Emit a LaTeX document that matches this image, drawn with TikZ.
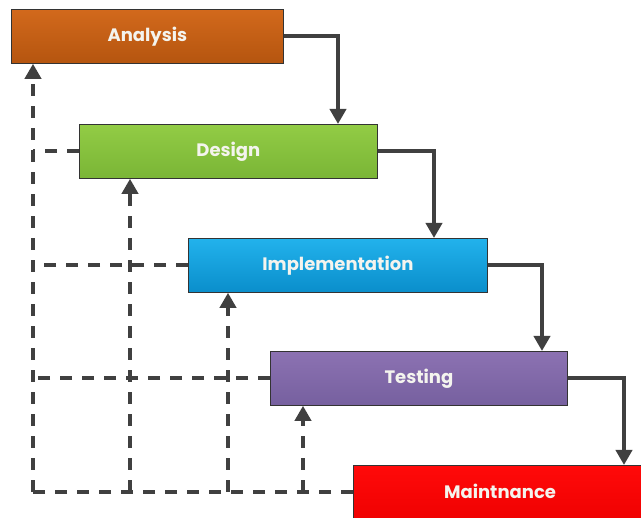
\documentclass[tikz,border=0pt]{standalone}
\usepackage{fontspec}
\setmainfont{Poppins}
\usetikzlibrary{arrows.meta}

\definecolor{lineclr}{HTML}{404040}
\definecolor{anaTop}{HTML}{D2691C}
\definecolor{anaBot}{HTML}{B5550F}
\definecolor{desTop}{HTML}{92CC45}
\definecolor{desBot}{HTML}{7AB536}
\definecolor{impTop}{HTML}{22B2EC}
\definecolor{impBot}{HTML}{0A8ECB}
\definecolor{tesTop}{HTML}{8C72B2}
\definecolor{tesBot}{HTML}{76609F}
\definecolor{maiTop}{HTML}{FF0A0A}
\definecolor{maiBot}{HTML}{EE0000}
\definecolor{labelclr}{HTML}{F4F4EE}

\tikzset{
  phaselabel/.style={text=labelclr, font=\fontsize{18}{21}\selectfont\bfseries},
  phase/.style={draw=black!80, line width=0.8pt, minimum height=54pt,
    phaselabel, inner sep=0pt, anchor=north west},
  flow/.style={draw=lineclr, line width=4pt,
    -{Triangle[width=16pt,length=15pt]}},
  back/.style={draw=lineclr, line width=4pt, dash pattern=on 12pt off 10pt},
  backarrow/.style={back, -{Triangle[width=16pt,length=15pt]}},
}

\begin{document}
\begin{tikzpicture}[x=1pt,y=-1pt]
  \useasboundingbox (0,0) rectangle (641,518);

  % phase boxes
  \node[phase, minimum width=272pt, top color=anaTop, bottom color=anaBot]
    (ana) at (11,9) {Analysis};
  \node[phase, minimum width=298pt, top color=desTop, bottom color=desBot]
    (des) at (79,124) {Design};
  \node[phase, minimum width=299pt, top color=impTop, bottom color=impBot]
    (imp) at (188,238) {Implementation};
  \node[phase, minimum width=297pt, top color=tesTop, bottom color=tesBot]
    (tes) at (270,351) {Testing};
  \node[phase, minimum width=300pt, minimum height=60pt,
    top color=maiTop, bottom color=maiBot]
    (mai) at (353,465) {};
  \node[phaselabel] (mailabel) at (500,491) {Maintnance};

  % feedback corner points
  \coordinate (c0) at (33,492);
  \coordinate (c1) at (130,492);
  \coordinate (c2) at (228,492);
  \coordinate (c3) at (303,492);

  % dashed feedback paths
  \draw[back] (mai.west |- c0) -- (c0);
  \draw[backarrow] (c0) -- (c0 |- ana.south);
  \draw[backarrow] (c1) -- (c1 |- des.south);
  \draw[backarrow] (c2) -- (c2 |- imp.south);
  \draw[backarrow] (c3) -- (c3 |- tes.south);
  \draw[back] (des.west) -- (c0 |- des.west);
  \draw[back] (imp.west) -- (c0 |- imp.west);
  \draw[back] (tes.west) -- (c0 |- tes.west);

  % forward flow
  \draw[flow] (ana.east) -| (338,124);
  \draw[flow] (des.east) -| (434,238);
  \draw[flow] (imp.east) -| (542,351);
  \draw[flow] (tes.east) -| (624,465);
\end{tikzpicture}
\end{document}
